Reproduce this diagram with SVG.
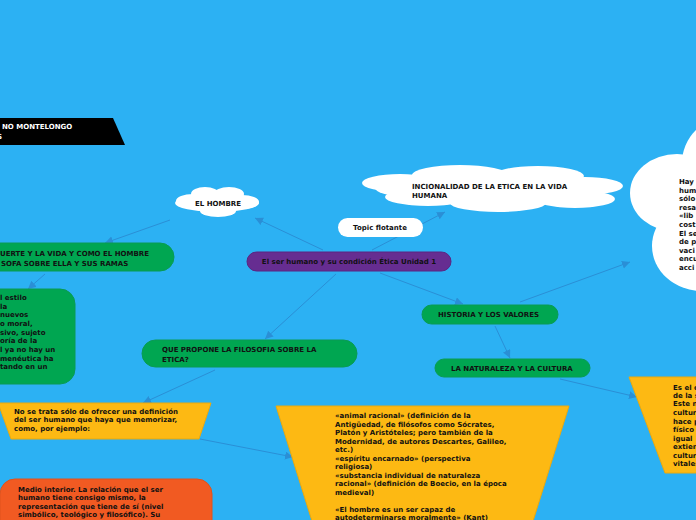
<svg xmlns="http://www.w3.org/2000/svg" width="696" height="520" viewBox="0 0 696 520">
<defs>
<style>
.t{font-family:"DejaVu Sans",Verdana,sans-serif;font-weight:bold;font-size:7px;fill:#111}
.w{fill:#fff}
.g{fill:#00a651;stroke:#0a9a55;stroke-width:1}
.y{fill:#fdb913;stroke:#e9a90f;stroke-width:1}
.c{stroke:#2a8fd6;stroke-width:1;fill:none;marker-end:url(#a)}
.cl{fill:#fff}
</style>
<marker id="a" markerWidth="10" markerHeight="10" refX="8" refY="4" orient="auto" markerUnits="userSpaceOnUse">
<path d="M0,0 L8,4 L0,8 Z" fill="#2a8fd6"/>
</marker>
</defs>
<rect width="696" height="520" fill="#2cb1f3"/>

<g id="connectors">
<line class="c" x1="323" y1="250" x2="255" y2="218"/>
<line class="c" x1="170" y1="220" x2="105" y2="243"/>
<line class="c" x1="45" y1="274" x2="28" y2="289"/>
<line class="c" x1="372" y1="250" x2="445" y2="212"/>
<line class="c" x1="336" y1="274" x2="265" y2="339"/>
<line class="c" x1="380" y1="273" x2="463" y2="304"/>
<line class="c" x1="520" y1="302" x2="630" y2="262"/>
<line class="c" x1="495" y1="326" x2="510" y2="358"/>
<line class="c" x1="560" y1="379" x2="637" y2="397"/>
<line class="c" x1="215" y1="370" x2="143" y2="403"/>
<line class="c" x1="200" y1="439" x2="293" y2="457"/>
</g>

<g id="banner">
<polygon points="-2,118 113,118 125,145 -2,145" fill="#000"/>
<text class="t" style="fill:#fff" x="2" y="129">NO MONTELONGO</text>
<text class="t" style="fill:#fff" x="-3" y="139">S</text>
</g>

<g id="el-hombre">
<ellipse class="cl" cx="217" cy="203" rx="42" ry="9"/>
<ellipse class="cl" cx="205" cy="194" rx="14" ry="7"/>
<ellipse class="cl" cx="229" cy="194" rx="15" ry="7"/>
<ellipse class="cl" cx="193" cy="201" rx="17" ry="7"/>
<ellipse class="cl" cx="242" cy="202" rx="17" ry="7"/>
<ellipse class="cl" cx="218" cy="211" rx="18" ry="6"/>
<text class="t" x="218" y="206" text-anchor="middle">EL HOMBRE</text>
</g>

<g id="muerte-vida">
<rect class="g" x="-20" y="243" width="194" height="28" rx="14"/>
<text class="t" x="0" y="256">UERTE Y LA VIDA Y COMO EL HOMBRE</text>
<text class="t" x="1" y="266">SOFA SOBRE ELLA Y SUS RAMAS</text>
</g>

<g id="estilo">
<rect class="g" x="-20" y="289" width="95" height="95" rx="15"/>
<text class="t" x="0" y="300">l estilo</text>
<text class="t" x="0" y="309">la</text>
<text class="t" x="0" y="317">nuevos</text>
<text class="t" x="0" y="326">o moral,</text>
<text class="t" x="0" y="335">sivo, sujeto</text>
<text class="t" x="0" y="343">oría de la</text>
<text class="t" x="0" y="352">l ya no hay un</text>
<text class="t" x="0" y="361">menéutica ha</text>
<text class="t" x="0" y="369">tando en un</text>
</g>

<g id="central">
<rect x="247" y="252" width="204" height="19" rx="9.5" fill="#662d91" stroke="#5a2582"/>
<text class="t" x="349" y="264" text-anchor="middle">El ser humano y su condición Ética Unidad 1</text>
</g>

<g id="topic-flotante">
<rect x="338" y="218" width="85" height="19" rx="9.5" fill="#fff"/>
<text class="t" x="380" y="230" text-anchor="middle">Topic flotante</text>
</g>

<g id="racionalidad">
<ellipse class="cl" cx="490" cy="188" rx="115" ry="15"/>
<ellipse class="cl" cx="400" cy="183" rx="38" ry="9"/>
<ellipse class="cl" cx="460" cy="175" rx="48" ry="10"/>
<ellipse class="cl" cx="538" cy="176" rx="46" ry="10"/>
<ellipse class="cl" cx="585" cy="186" rx="38" ry="9"/>
<ellipse class="cl" cx="428" cy="197" rx="43" ry="9"/>
<ellipse class="cl" cx="498" cy="203" rx="48" ry="9"/>
<ellipse class="cl" cx="575" cy="199" rx="40" ry="9"/>
<text class="t" x="412" y="189">INCIONALIDAD DE LA ETICA EN LA VIDA</text>
<text class="t" x="412" y="198">HUMANA</text>
</g>

<g id="nube-derecha">
<circle class="cl" cx="728" cy="163" r="46"/>
<ellipse class="cl" cx="677" cy="193" rx="47" ry="39"/>
<ellipse class="cl" cx="702" cy="246" rx="50" ry="45"/>
<rect class="cl" x="670" y="160" width="30" height="110"/>
<text class="t" x="679" y="184">Hay</text>
<text class="t" x="679" y="193">hum</text>
<text class="t" x="679" y="201">sólo</text>
<text class="t" x="679" y="210">resa</text>
<text class="t" x="679" y="218">«lib</text>
<text class="t" x="679" y="227">cost</text>
<text class="t" x="679" y="236">El se</text>
<text class="t" x="679" y="244">de p</text>
<text class="t" x="679" y="253">vaci</text>
<text class="t" x="679" y="261">encu</text>
<text class="t" x="679" y="270">acci</text>
</g>

<g id="historia">
<rect class="g" x="422" y="305" width="136" height="19" rx="9.5"/>
<text class="t" x="438" y="317">HISTORIA Y LOS VALORES</text>
</g>

<g id="naturaleza">
<rect class="g" x="435" y="359" width="155" height="18" rx="9"/>
<text class="t" x="451" y="371">LA NATURALEZA Y LA CULTURA</text>
</g>

<g id="que-propone">
<rect class="g" x="142" y="340" width="215" height="27" rx="13.5"/>
<text class="t" x="162" y="352">QUE PROPONE LA FILOSOFIA SOBRE LA</text>
<text class="t" x="162" y="362">ETICA?</text>
</g>

<g id="no-se-trata">
<polygon class="y" points="-2,403 211,403 199,439 11,439"/>
<text class="t" x="14" y="414">No se trata sólo de ofrecer una definición</text>
<text class="t" x="14" y="422">del ser humano que haya que memorizar,</text>
<text class="t" x="14" y="431">como, por ejemplo:</text>
</g>

<g id="definiciones">
<polygon class="y" points="276,406 569,406 524,550 321,550"/>
<text class="t" x="335" y="418">«animal racional» (definición de la</text>
<text class="t" x="335" y="426.5">Antigüedad, de filósofos como Sócrates,</text>
<text class="t" x="335" y="435">Platón y Aristóteles; pero también de la</text>
<text class="t" x="335" y="443.5">Modernidad, de autores Descartes, Galileo,</text>
<text class="t" x="335" y="452">etc.)</text>
<text class="t" x="335" y="460.5">«espíritu encarnado» (perspectiva</text>
<text class="t" x="335" y="469">religiosa)</text>
<text class="t" x="335" y="477.5">«substancia individual de naturaleza</text>
<text class="t" x="335" y="486">racional» (definición de Boecio, en la época</text>
<text class="t" x="335" y="494.5">medieval)</text>
<text class="t" x="335" y="511.5">«El hombre es un ser capaz de</text>
<text class="t" x="335" y="520">autodeterminarse moralmente» (Kant)</text>
</g>

<g id="naturaleza-cultura-texto">
<polygon class="y" points="629,377 700,377 700,473 665,473"/>
<text class="t" x="673" y="390">Es el c</text>
<text class="t" x="673" y="398">de la s</text>
<text class="t" x="673" y="406">Este n</text>
<text class="t" x="673" y="415">cultur</text>
<text class="t" x="673" y="424">hace p</text>
<text class="t" x="673" y="432">físico</text>
<text class="t" x="673" y="441">igual</text>
<text class="t" x="673" y="449">extien</text>
<text class="t" x="673" y="458">cultur</text>
<text class="t" x="673" y="466">vitales</text>
</g>

<g id="medio-interior">
<rect x="0" y="479" width="212" height="60" rx="15" fill="#f15a22" stroke="#e0521c"/>
<text class="t" x="18" y="492">Medio interior. La relación que el ser</text>
<text class="t" x="18" y="500">humano tiene consigo mismo, la</text>
<text class="t" x="18" y="509">representación que tiene de sí (nivel</text>
<text class="t" x="18" y="517">simbólico, teológico y filosófico). Su</text>
</g>
</svg>
